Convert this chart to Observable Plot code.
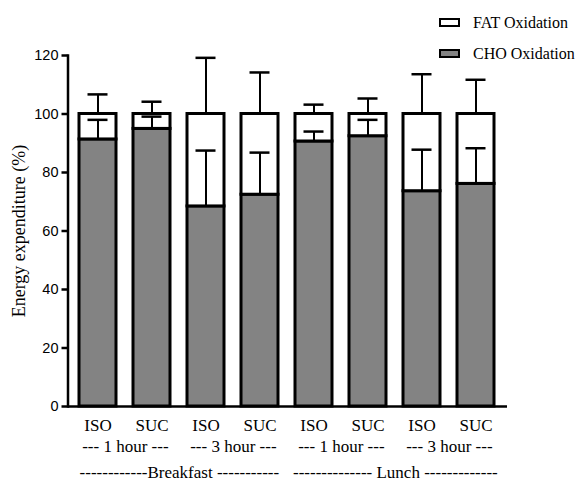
<!DOCTYPE html>
<html><head><meta charset="utf-8">
<script src="https://cdn.jsdelivr.net/npm/d3@7"></script>
<script src="https://cdn.jsdelivr.net/npm/@observablehq/plot@0.6"></script>
<style>
body{margin:0;background:#fff;}
#wrap{position:relative;width:579px;height:487px;}
.lg{position:absolute;left:439px;height:20px;display:flex;align-items:center;font-family:"Liberation Serif","Times New Roman",serif;font-size:16px;color:#000;white-space:nowrap;}
.sw{box-sizing:border-box;width:21px;height:9px;border:2.5px solid #000;margin-right:13px;}
</style></head><body><div id="wrap"></div>
<script>
// ---- data ----
const barIds = ["B1-ISO","B1-SUC","B3-ISO","B3-SUC","L1-ISO","L1-SUC","L3-ISO","L3-SUC"];
const drinkLabels = ["ISO","SUC","ISO","SUC","ISO","SUC","ISO","SUC"];
const choValues = [91.3, 94.9, 68.4, 72.4, 90.6, 92.4, 73.6, 76.1];
const fatValues = [8.7, 5.1, 31.6, 27.6, 9.4, 7.6, 26.4, 23.9];
const choSD = [6.7, 4.2, 19.1, 14.4, 3.4, 5.6, 14.2, 12.2];
const fatSD = [6.7, 4.2, 19.2, 14.2, 3.2, 5.3, 13.6, 11.7];
const timeLabels = ["--- 1 hour ---","--- 3 hour ---","--- 1 hour ---","--- 3 hour ---"];
const timeAnchors = ["B1-ISO","B3-ISO","L1-ISO","L3-ISO"];
const mealLabels = ["------------Breakfast -----------","-------------- Lunch -------------"];
const mealAnchors = ["B1-SUC","L1-SUC"];
const yTicks = [0, 20, 40, 60, 80, 100, 120];
const seriesNames = ["CHO Oxidation","FAT Oxidation"];
const seriesColors = ["#838383","#ffffff"];
const yLabel = "Energy expenditure (%)";

// ---- tables built from the arrays ----
const stacked = [
  ...barIds.map((id, i) => ({id, series: seriesNames[0], value: choValues[i]})),
  ...barIds.map((id, i) => ({id, series: seriesNames[1], value: fatValues[i]}))
];
const errs = [
  ...barIds.map((id, i) => ({id, base: choValues[i], top: choValues[i] + choSD[i]})),
  ...barIds.map((id, i) => ({id, base: choValues[i] + fatValues[i], top: choValues[i] + fatValues[i] + fatSD[i]}))
];
const times = timeLabels.map((t, i) => ({id: timeAnchors[i], t}));
const meals = mealLabels.map((t, i) => ({id: mealAnchors[i], t}));

const serif = "'Liberation Serif', 'Times New Roman', serif";
const W = 579, H = 487, mL = 67.5, mR = 73.5;
const halfStep = (W - mL - mR) / barIds.length / 2;

const chart = Plot.plot({
  width: W, height: H,
  marginLeft: mL, marginRight: mR, marginTop: 55, marginBottom: 81,
  style: {background: "#fff", color: "#000", overflow: "visible"},
  x: {type: "band", domain: barIds, paddingInner: 0.324, paddingOuter: 0.162},
  y: {domain: [0, 120]},
  color: {domain: seriesNames, range: seriesColors},
  marks: [
    Plot.barY(stacked, {x: "id", y: "value", fill: "series", stroke: "#000", strokeWidth: 3, order: seriesNames}),
    Plot.ruleX(errs, {x: "id", y1: "base", y2: "top", strokeWidth: 2}),
    Plot.tickY(errs, {x: "id", y: "top", strokeWidth: 2.5, insetLeft: 8.5, insetRight: 8.5}),
    Plot.frame({anchor: "left", strokeWidth: 2.5}),
    Plot.ruleY([0], {strokeWidth: 2.5, insetRight: -1.5}),
    Plot.axisY({ticks: yTicks, tickSize: 6, tickPadding: 3.5, strokeWidth: 2.5, label: null,
      fontSize: 14.5, fontFamily: "'Liberation Sans', Arial, sans-serif"}),
    Plot.axisX({tickSize: 0, tickPadding: 12, label: null, fontSize: 17, fontFamily: serif,
      tickFormat: (d) => drinkLabels[barIds.indexOf(d)]}),
    Plot.text(times, {x: "id", text: "t", frameAnchor: "bottom", dx: halfStep, dy: 45,
      fontSize: 17, fontFamily: serif}),
    Plot.text(meals, {x: "id", text: "t", frameAnchor: "bottom", dx: halfStep, dy: 71.6,
      fontSize: 17, fontFamily: serif}),
    Plot.text([yLabel], {frameAnchor: "left", rotate: -90, dx: -55.5, lineAnchor: "top",
      textAnchor: "middle", fontSize: 18, fontFamily: serif})
  ]
});
const wrap = document.getElementById("wrap");
wrap.appendChild(chart);
// legend
[[seriesNames[1], seriesColors[1], 12.5], [seriesNames[0], seriesColors[0], 43.5]].forEach(([name, col, top]) => {
  const row = document.createElement("div");
  row.className = "lg";
  row.style.top = top + "px";
  const sw = document.createElement("div");
  sw.className = "sw";
  sw.style.background = col;
  row.appendChild(sw);
  row.appendChild(document.createTextNode(name));
  wrap.appendChild(row);
});
</script>
</body></html>
